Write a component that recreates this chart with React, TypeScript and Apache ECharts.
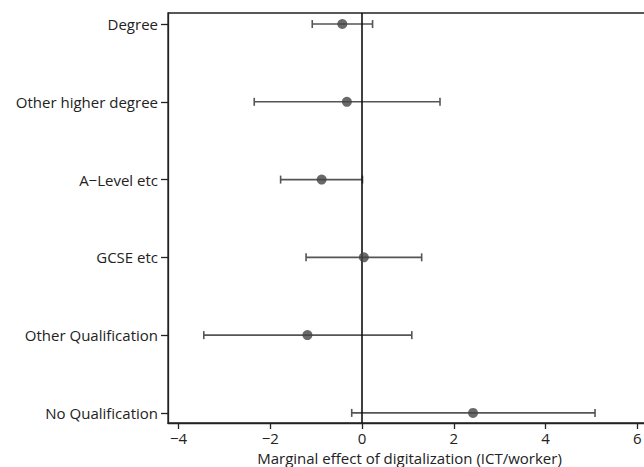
import React, { useEffect, useRef } from "react";
import * as echarts from "echarts";

const categories = [
  "Degree",
  "Other higher degree",
  "A\u2212Level etc",
  "GCSE etc",
  "Other Qualification",
  "No Qualification",
];
const estimates = [-0.43, -0.33, -0.88, 0.04, -1.19, 2.42];
const lowerCI = [-1.085, -2.35, -1.775, -1.22, -3.45, -0.225];
const upperCI = [0.23, 1.7, 0.01, 1.3, 1.085, 5.08];
const xTicks = [-4, -2, 0, 2, 4, 6];
const xTitle = "Marginal effect of digitalization (ICT/worker)";

const FONT = "Open Sans";

export default function App() {
  const ref = useRef<HTMLDivElement>(null);
  useEffect(() => {
    const chart = echarts.init(ref.current!, null, { renderer: "svg" });
    const ciData = categories.map((_, i) => [i, lowerCI[i], upperCI[i]]);
    const ptData = categories.map((_, i) => [estimates[i], i]);
    chart.setOption({
      animation: false,
      backgroundColor: "#ffffff",
      grid: {
        left: 168,
        top: 13,
        bottom: 44,
        right: -7,
        containLabel: false,
        outerBoundsMode: "none",
        show: true,
        borderColor: "#222",
        borderWidth: 1.3,
        backgroundColor: "transparent",
      },
      xAxis: {
        type: "value",
        min: -4.23,
        max: 6.3,
        name: xTitle,
        nameLocation: "middle",
        nameGap: 27,
        nameTextStyle: { fontFamily: FONT, fontSize: 15, color: "#222" },
        splitLine: { show: false },
        axisLine: { show: true, onZero: false, lineStyle: { color: "#222", width: 1.3 } },
        axisTick: {
          show: true,
          length: 6,
          customValues: xTicks,
          lineStyle: { color: "#222", width: 1.3 },
        },
        axisLabel: {
          customValues: xTicks,
          fontFamily: FONT,
          fontSize: 15,
          color: "#222",
          margin: 7,
          formatter: (v: number) => String(v).replace("-", "\u2212"),
        },
      },
      yAxis: {
        type: "value",
        inverse: true,
        min: -0.142,
        max: 5.13,
        splitLine: { show: false },
        axisLine: { show: true, onZero: false, lineStyle: { color: "#222", width: 1.3 } },
        axisTick: {
          show: true,
          length: 7,
          customValues: categories.map((_, i) => i),
          lineStyle: { color: "#222", width: 1.3 },
        },
        axisLabel: {
          customValues: categories.map((_, i) => i),
          fontFamily: FONT,
          fontSize: 15,
          color: "#222",
          margin: 10,
          formatter: (v: number) => categories[Math.round(v)] ?? "",
        },
      },
      series: [
        {
          type: "custom",
          data: ciData,
          z: 2,
          renderItem: (params: any, api: any) => {
            const y = api.value(0);
            const lo = api.coord([api.value(1), y]);
            const hi = api.coord([api.value(2), y]);
            const cap = 4;
            const style = { stroke: "#555", lineWidth: 1.6 };
            return {
              type: "group",
              children: [
                { type: "line", shape: { x1: lo[0], y1: lo[1], x2: hi[0], y2: hi[1] }, style },
                { type: "line", shape: { x1: lo[0], y1: lo[1] - cap, x2: lo[0], y2: lo[1] + cap }, style },
                { type: "line", shape: { x1: hi[0], y1: hi[1] - cap, x2: hi[0], y2: hi[1] + cap }, style },
              ],
            };
          },
          encode: { x: [1, 2], y: 0 },
        },
        {
          type: "scatter",
          data: ptData,
          symbol: "circle",
          symbolSize: 10,
          z: 4,
          itemStyle: { color: "#444" },
          markLine: {
            silent: true,
            symbol: "none",
            label: { show: false },
            lineStyle: { color: "#111", width: 1.6, type: "solid" },
            data: [{ xAxis: 0 }],
            z: 3,
          },
        },
      ],
    });
    return () => chart.dispose();
  }, []);
  return (
    <div
      ref={ref}
      style={{ position: "fixed", left: 0, top: 0, width: 644, height: 467 }}
    />
  );
}
